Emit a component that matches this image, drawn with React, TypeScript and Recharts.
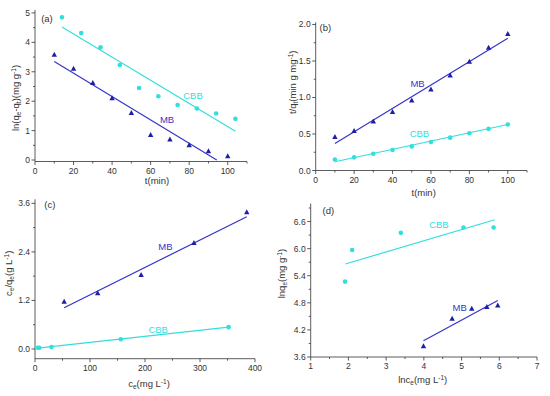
import React from "react";
import { ReferenceDot, Scatter, ScatterChart, XAxis, YAxis } from "recharts";

// (a) pseudo-first-order
const tMB = [10, 20, 30, 40, 50, 60, 70, 80, 90, 100];
const lnA_MB = [3.58, 3.1, 2.62, 2.1, 1.6, 0.85, 0.7, 0.5, 0.3, 0.13];
const tCBB_a = [14, 24, 34, 44, 54, 64, 74, 84, 94, 104];
const lnA_CBB = [4.85, 4.32, 3.83, 3.23, 2.45, 2.17, 1.87, 1.75, 1.58, 1.4];
const fitA_MB_x = [10, 94.3];
const fitA_MB_y = [3.35, 0];
const fitA_CBB_x = [14, 104];
const fitA_CBB_y = [4.52, 0.98];

// (b) pseudo-second-order
const tB = [10, 20, 30, 40, 50, 60, 70, 80, 90, 100];
const tqB_MB = [0.46, 0.54, 0.67, 0.8, 0.96, 1.11, 1.3, 1.49, 1.68, 1.87];
const tqB_CBB = [0.15, 0.18, 0.23, 0.28, 0.33, 0.39, 0.45, 0.51, 0.57, 0.63];
const fitB_x = [10, 100];
const fitB_MB_y = [0.37, 1.81];
const fitB_CBB_y = [0.12, 0.63];

// (c) Langmuir
const ceC_MB = [53, 114, 193, 289, 385];
const cqC_MB = [1.17, 1.38, 1.83, 2.62, 3.38];
const ceC_CBB = [5, 8, 30, 156, 352];
const cqC_CBB = [0.03, 0.03, 0.05, 0.24, 0.54];
const fitC_MB_x = [53, 385];
const fitC_MB_y = [1.02, 3.27];
const fitC_CBB_x = [5, 352];
const fitC_CBB_y = [0.02, 0.54];

// (d) Freundlich
const lnceD_MB = [3.99, 4.75, 5.27, 5.67, 5.96];
const lnqD_MB = [3.84, 4.45, 4.67, 4.71, 4.74];
const lnceD_CBB = [1.91, 2.1, 3.39, 5.05, 5.85];
const lnqD_CBB = [5.27, 5.97, 6.35, 6.47, 6.47];
const fitD_MB_x = [3.99, 5.96];
const fitD_MB_y = [3.96, 4.85];
const fitD_CBB_x = [1.92, 5.88];
const fitD_CBB_y = [5.66, 6.64];

const CYAN = "#33dede";
const BLUE_LINE = "#3535c8";
const BLUE_PT = "#1f1fa6";
const FONT = "Liberation Sans, Arial, sans-serif";

const zip = (xs: number[], ys: number[]) => xs.map((x, i) => ({ x, y: ys[i] }));

const Triangle = (p: any) => (
  <polygon
    points={`${p.cx},${p.cy - 3} ${p.cx - 2.7},${p.cy + 2} ${p.cx + 2.7},${p.cy + 2}`}
    fill={BLUE_PT}
  />
);
const Dot = (p: any) => <circle cx={p.cx} cy={p.cy} r={2.3} fill={CYAN} />;
const NoShape = () => <g />;

const near = (a: number, b: number) => Math.abs(a - b) < 1e-6;
const isMajor = (v: number, step: number, start = 0) =>
  near((v - start) / step, Math.round((v - start) / step));

function makeXTick(step: number, fmt: (v: number) => string, start = 0) {
  return (p: any) => {
    const v = p.payload.value;
    const major = isMajor(v, step, start);
    return (
      <g>
        <line x1={p.x} y1={p.y} x2={p.x} y2={p.y + (major ? 3.5 : 2)} stroke="#333" strokeWidth={0.8} />
        {major && (
          <text x={p.x} y={p.y + 12} textAnchor="middle" fontSize={8.5} fill="#333" fontFamily={FONT}>
            {fmt(v)}
          </text>
        )}
      </g>
    );
  };
}

function makeYTick(step: number, fmt: (v: number) => string, start = 0) {
  return (p: any) => {
    const v = p.payload.value;
    const major = isMajor(v, step, start);
    return (
      <g>
        <line x1={p.x - (major ? 3.5 : 2)} y1={p.y} x2={p.x} y2={p.y} stroke="#333" strokeWidth={0.8} />
        {major && (
          <text x={p.x - 5} y={p.y + 3} textAnchor="end" fontSize={8.5} fill="#333" fontFamily={FONT}>
            {fmt(v)}
          </text>
        )}
      </g>
    );
  };
}

const range = (a: number, b: number, s: number) => {
  const out: number[] = [];
  for (let i = 0; a + i * s <= b + 1e-9; i++) out.push(+(a + i * s).toFixed(4));
  return out;
};

type Part = { t: string; sub?: boolean; sup?: boolean };

function Title({ parts, x, y, rotate }: { parts: Part[]; x: number; y: number; rotate?: boolean }) {
  let shift = 0;
  const spans = parts.map((p, i) => {
    const target = p.sub ? 2 : p.sup ? -3 : 0;
    const dy = target - shift;
    shift = target;
    return (
      <tspan key={i} dy={dy} fontSize={p.sub || p.sup ? 6.5 : 9.5}>
        {p.t}
      </tspan>
    );
  });
  return (
    <text
      x={x}
      y={y}
      textAnchor="middle"
      fill="#333"
      fontFamily={FONT}
      transform={rotate ? `rotate(-90 ${x} ${y})` : undefined}
    >
      {spans}
    </text>
  );
}

const axisTitle = (parts: Part[], dx: number, dy: number, rotate?: boolean) => ({
  content: (props: any) => {
    const vb = props.viewBox;
    return <Title parts={parts} x={vb.x + dx} y={vb.y + dy} rotate={rotate} />;
  },
});

const seriesLabel = (text: string, fill: string) => ({
  value: text,
  fill,
  fontSize: 9.5,
  fontFamily: FONT,
  position: "center" as const,
});

const panelLabel = (text: string) => ({
  value: text,
  fill: "#333",
  fontSize: 9.5,
  fontFamily: FONT,
  position: "center" as const,
});

const axisLine = { stroke: "#333", strokeWidth: 0.8 };

function PanelA() {
  return (
    <ScatterChart width={275} height={196} margin={{ top: 10, right: 28, bottom: 0, left: 0 }}>
      <XAxis
        type="number"
        dataKey="x"
        domain={[0, 110]}
        ticks={range(0, 110, 10)}
        tick={makeXTick(20, (v) => String(v))}
        tickLine={false}
        tickSize={0}
        tickMargin={0}
        axisLine={axisLine}
        height={34.5}
        interval={0}
        label={axisTitle([{ t: "t(min)" }], 122, 22)}
      />
      <YAxis
        type="number"
        dataKey="y"
        domain={[-0.05, 5.1]}
        ticks={range(0, 5, 0.5)}
        tick={makeYTick(1, (v) => String(v))}
        tickLine={false}
        tickSize={0}
        tickMargin={0}
        axisLine={axisLine}
        width={35}
        interval={0}
        label={axisTitle(
          [{ t: "ln(q" }, { t: "e", sub: true }, { t: "-q" }, { t: "t", sub: true }, { t: ")(mg g" }, { t: "-1", sup: true }, { t: ")" }],
          19,
          88,
          true
        )}
      />
      <Scatter data={zip(fitA_CBB_x, fitA_CBB_y)} line={{ stroke: CYAN, strokeWidth: 1.2 }} shape={NoShape} isAnimationActive={false} />
      <Scatter data={zip(fitA_MB_x, fitA_MB_y)} line={{ stroke: BLUE_LINE, strokeWidth: 1.2 }} shape={NoShape} isAnimationActive={false} />
      <Scatter data={zip(tCBB_a, lnA_CBB)} shape={Dot} isAnimationActive={false} />
      <Scatter data={zip(tMB, lnA_MB)} shape={Triangle} isAnimationActive={false} />
      <ReferenceDot x={82} y={2.2} r={0} fill="none" stroke="none" label={seriesLabel("CBB", CYAN)} />
      <ReferenceDot x={68.5} y={1.37} r={0} fill="none" stroke="none" label={seriesLabel("MB", BLUE_LINE)} />
      <ReferenceDot x={6.2} y={4.82} r={0} fill="none" stroke="none" label={panelLabel("(a)")} />
    </ScatterChart>
  );
}

function PanelB() {
  return (
    <ScatterChart width={275} height={200} margin={{ top: 22.3, right: 23, bottom: 0, left: 0 }}>
      <XAxis
        type="number"
        dataKey="x"
        domain={[0, 110]}
        ticks={range(0, 110, 10)}
        tick={makeXTick(20, (v) => String(v))}
        tickLine={false}
        tickSize={0}
        tickMargin={0}
        axisLine={axisLine}
        height={29.5}
        interval={0}
        label={axisTitle([{ t: "t(min)" }], 108, 25)}
      />
      <YAxis
        type="number"
        dataKey="y"
        domain={[0, 2.03]}
        ticks={range(0, 2, 0.25)}
        tick={makeYTick(0.5, (v) => v.toFixed(1))}
        tickLine={false}
        tickSize={0}
        tickMargin={0}
        axisLine={axisLine}
        width={40.7}
        interval={0}
        label={axisTitle(
          [{ t: "t/q" }, { t: "t", sub: true }, { t: "(min g mg" }, { t: "-1", sup: true }, { t: ")" }],
          21,
          60,
          true
        )}
      />
      <Scatter data={zip(fitB_x, fitB_MB_y)} line={{ stroke: BLUE_LINE, strokeWidth: 1.2 }} shape={NoShape} isAnimationActive={false} />
      <Scatter data={zip(fitB_x, fitB_CBB_y)} line={{ stroke: CYAN, strokeWidth: 1.2 }} shape={NoShape} isAnimationActive={false} />
      <Scatter data={zip(tB, tqB_CBB)} shape={Dot} isAnimationActive={false} />
      <Scatter data={zip(tB, tqB_MB)} shape={Triangle} isAnimationActive={false} />
      <ReferenceDot x={53} y={1.19} r={0} fill="none" stroke="none" label={seriesLabel("MB", BLUE_LINE)} />
      <ReferenceDot x={54} y={0.5} r={0} fill="none" stroke="none" label={seriesLabel("CBB", CYAN)} />
      <ReferenceDot x={5} y={1.96} r={0} fill="none" stroke="none" label={panelLabel("(b)")} />
    </ScatterChart>
  );
}

function PanelC() {
  return (
    <ScatterChart width={275} height={200} margin={{ top: 3.3, right: 20, bottom: 0, left: 0 }}>
      <XAxis
        type="number"
        dataKey="x"
        domain={[0, 400]}
        ticks={range(0, 400, 50)}
        tick={makeXTick(100, (v) => String(v))}
        tickLine={false}
        tickSize={0}
        tickMargin={0}
        axisLine={axisLine}
        height={37.3}
        interval={0}
        label={axisTitle(
          [{ t: "c" }, { t: "e", sub: true }, { t: "(mg L" }, { t: "-1", sup: true }, { t: ")" }],
          114,
          28
        )}
      />
      <YAxis
        type="number"
        dataKey="y"
        domain={[-0.24, 3.7]}
        ticks={range(0, 3.6, 0.6)}
        tick={makeYTick(1.2, (v) => v.toFixed(1))}
        tickLine={false}
        tickSize={0}
        tickMargin={0}
        axisLine={axisLine}
        width={35}
        interval={0}
        label={axisTitle(
          [{ t: "c" }, { t: "e", sub: true }, { t: "/q" }, { t: "e", sub: true }, { t: "(g L" }, { t: "-1", sup: true }, { t: ")" }],
          12,
          74,
          true
        )}
      />
      <Scatter data={zip(fitC_MB_x, fitC_MB_y)} line={{ stroke: BLUE_LINE, strokeWidth: 1.2 }} shape={NoShape} isAnimationActive={false} />
      <Scatter data={zip(fitC_CBB_x, fitC_CBB_y)} line={{ stroke: CYAN, strokeWidth: 1.2 }} shape={NoShape} isAnimationActive={false} />
      <Scatter data={zip(ceC_CBB, cqC_CBB)} shape={Dot} isAnimationActive={false} />
      <Scatter data={zip(ceC_MB, cqC_MB)} shape={Triangle} isAnimationActive={false} />
      <ReferenceDot x={237} y={2.52} r={0} fill="none" stroke="none" label={seriesLabel("MB", BLUE_LINE)} />
      <ReferenceDot x={224} y={0.48} r={0} fill="none" stroke="none" label={seriesLabel("CBB", CYAN)} />
      <ReferenceDot x={27} y={3.58} r={0} fill="none" stroke="none" label={panelLabel("(c)")} />
    </ScatterChart>
  );
}

function PanelD() {
  return (
    <ScatterChart width={275} height={200} margin={{ top: 7.5, right: 13, bottom: 0, left: 0 }}>
      <XAxis
        type="number"
        dataKey="x"
        domain={[1, 7]}
        ticks={range(1, 7, 0.5)}
        tick={makeXTick(1, (v) => String(v), 1)}
        tickLine={false}
        tickSize={0}
        tickMargin={0}
        axisLine={axisLine}
        height={39}
        interval={0}
        label={axisTitle(
          [{ t: "lnc" }, { t: "e", sub: true }, { t: "(mg L" }, { t: "-1", sup: true }, { t: ")" }],
          112,
          26
        )}
      />
      <YAxis
        type="number"
        dataKey="y"
        domain={[3.6, 7.0]}
        ticks={range(3.6, 6.9, 0.3)}
        tick={makeYTick(0.6, (v) => v.toFixed(1), 3.6)}
        tickLine={false}
        tickSize={0}
        tickMargin={0}
        axisLine={axisLine}
        width={35.7}
        interval={0}
        label={axisTitle(
          [{ t: "lnq" }, { t: "e", sub: true }, { t: "(mg g" }, { t: "-1", sup: true }, { t: ")" }],
          10,
          70,
          true
        )}
      />
      <Scatter data={zip(fitD_CBB_x, fitD_CBB_y)} line={{ stroke: CYAN, strokeWidth: 1.2 }} shape={NoShape} isAnimationActive={false} />
      <Scatter data={zip(fitD_MB_x, fitD_MB_y)} line={{ stroke: BLUE_LINE, strokeWidth: 1.2 }} shape={NoShape} isAnimationActive={false} />
      <Scatter data={zip(lnceD_CBB, lnqD_CBB)} shape={Dot} isAnimationActive={false} />
      <Scatter data={zip(lnceD_MB, lnqD_MB)} shape={Triangle} isAnimationActive={false} />
      <ReferenceDot x={4.4} y={6.54} r={0} fill="none" stroke="none" label={seriesLabel("CBB", CYAN)} />
      <ReferenceDot x={4.95} y={4.7} r={0} fill="none" stroke="none" label={seriesLabel("MB", BLUE_LINE)} />
      <ReferenceDot x={1.47} y={6.85} r={0} fill="none" stroke="none" label={panelLabel("(d)")} />
    </ScatterChart>
  );
}

export default function App() {
  return (
    <div style={{ position: "absolute", left: 0, top: 0, width: 550, height: 396, background: "#fff", fontFamily: FONT }}>
      <div style={{ position: "absolute", left: 0, top: 0 }}>
        <PanelA />
      </div>
      <div style={{ position: "absolute", left: 275, top: 0 }}>
        <PanelB />
      </div>
      <div style={{ position: "absolute", left: 0, top: 196 }}>
        <PanelC />
      </div>
      <div style={{ position: "absolute", left: 275, top: 196 }}>
        <PanelD />
      </div>
    </div>
  );
}
